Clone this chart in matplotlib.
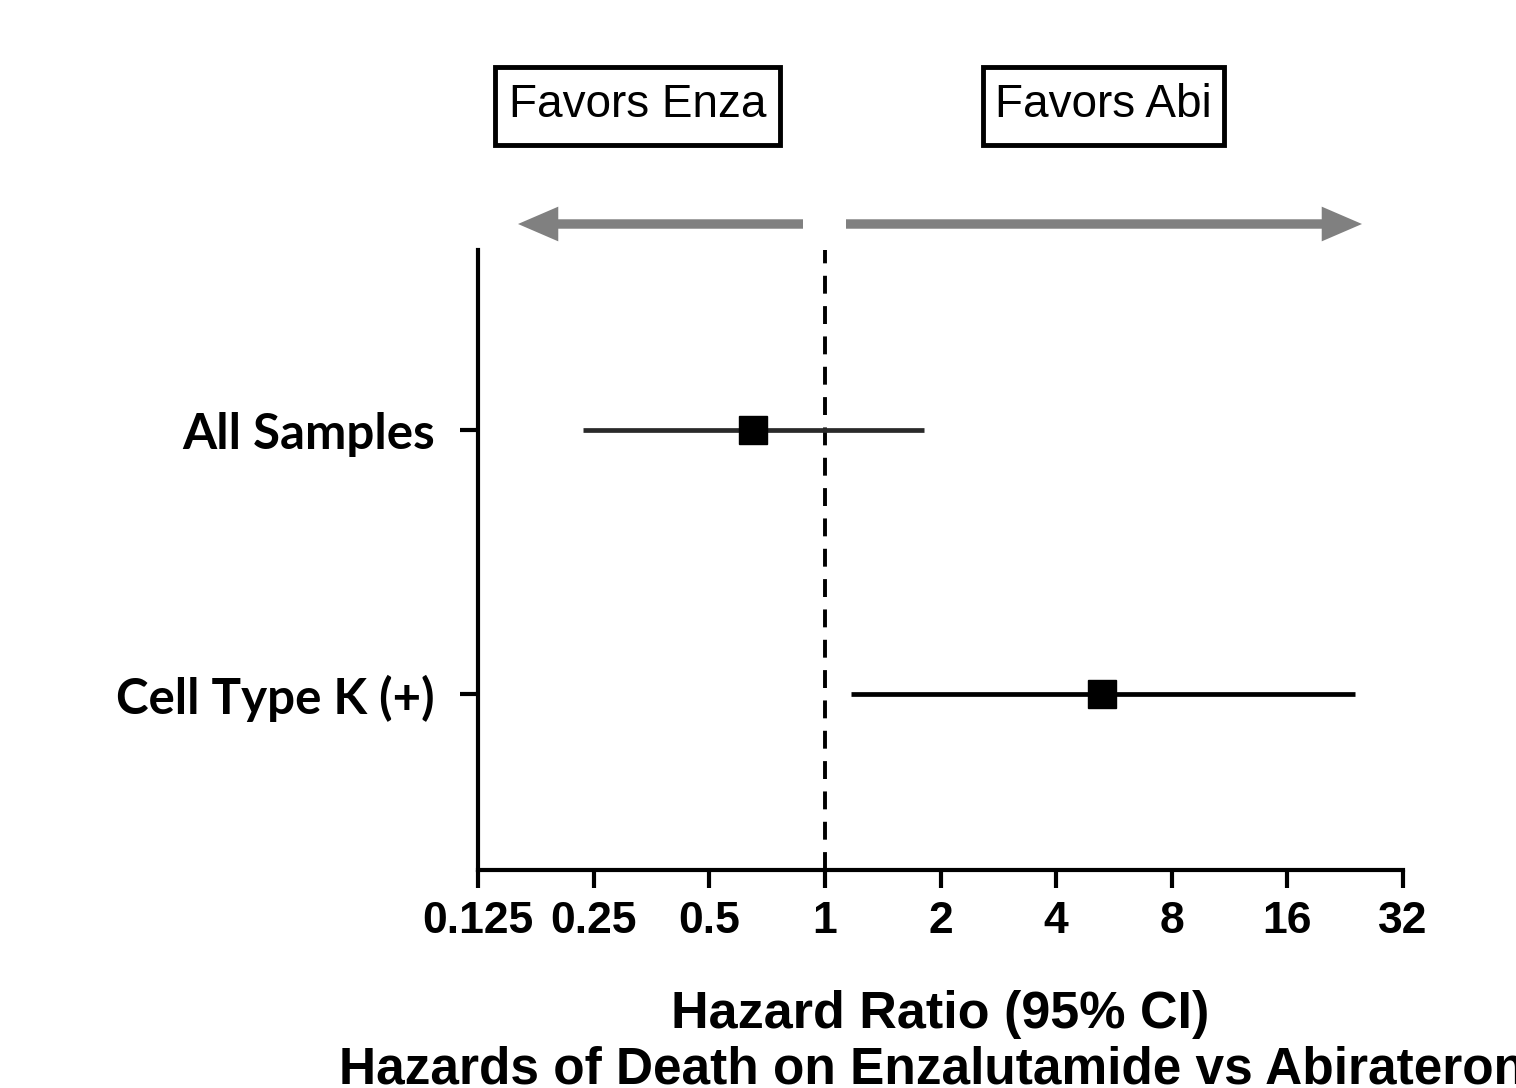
import matplotlib
matplotlib.use("Agg")
import matplotlib.pyplot as plt
from matplotlib.patches import Rectangle, FancyArrowPatch

# data
groups = ["All Samples", "Cell Type K (+)"]
hr = [0.65, 5.27]
ci_low = [0.234, 1.17]
ci_high = [1.81, 24.0]
line_colors = ["#2a2a2a", "black"]
xticks = [0.125, 0.25, 0.5, 1, 2, 4, 8, 16, 32]
xtick_labels = ["0.125", "0.25", "0.5", "1", "2", "4", "8", "16", "32"]
ypos = [2, 1]

W, H = 1516, 1088
fig = plt.figure(figsize=(W / 100, H / 100), dpi=100)
ax = fig.add_axes([478 / W, 1 - 870 / H, (1403 - 478) / W, (870 - 250) / H])

for i in range(len(groups)):
    ax.plot([ci_low[i], ci_high[i]], [ypos[i], ypos[i]], color=line_colors[i],
            lw=3.4, solid_capstyle="butt", zorder=2)
    ax.plot(hr[i], ypos[i], marker="s", ms=20.5, color="black", zorder=3)

ax.axvline(1, color="black", lw=2.8, ls=(0, (4.6, 3.2)), zorder=1)

ax.set_xscale("log", base=2)
ax.set_xlim(0.125, 32)
ax.set_ylim(0.333, 2.682)
ax.set_xticks(xticks)
ax.set_xticklabels(xtick_labels, fontfamily="Liberation Sans", fontweight="bold", fontsize=32)
ax.minorticks_off()
ax.set_yticks(ypos)
ax.set_yticklabels(groups, fontfamily="Lato", fontweight="bold", fontsize=35.5)

for s in ["top", "right"]:
    ax.spines[s].set_visible(False)
for s in ["left", "bottom"]:
    ax.spines[s].set_linewidth(3)
ax.tick_params(axis="x", direction="out", length=13, width=3, pad=9)
ax.tick_params(axis="y", direction="out", length=13, width=3, pad=18)

# axis title lines (second line runs past the right edge, as in the original)
fig.text(940 / W, 1 - 1028 / H, "Hazard Ratio (95% CI)", ha="center", va="baseline",
         fontfamily="Liberation Sans", fontweight="bold", fontsize=37.5)
fig.text(946 / W, 1 - 1084 / H, "Hazards of Death on Enzalutamide vs Abiraterone",
         ha="center", va="baseline", fontfamily="Liberation Sans", fontweight="bold", fontsize=37)

# favour boxes
boxes = [(495, 780, "Favors Enza"), (983, 1224, "Favors Abi")]
for x0, x1, txt in boxes:
    fig.add_artist(Rectangle((x0 / W, 1 - 145 / H), (x1 - x0) / W, 78 / H,
                             transform=fig.transFigure, fill=False, lw=3.5, ec="black"))
    fig.text((x0 + x1) / 2 / W, 1 - 105 / H, txt, ha="center", va="center",
             fontfamily="Liberation Sans", fontsize=33)

# gray direction arrows
for start, end in [(803, 518), (846, 1362)]:
    arr = FancyArrowPatch((start / W, 1 - 224 / H), (end / W, 1 - 224 / H),
                          transform=fig.transFigure,
                          arrowstyle="simple,head_length=29,head_width=25,tail_width=6.8",
                          mutation_scale=1, shrinkA=0, shrinkB=0, color="#808080", lw=0)
    fig.add_artist(arr)

fig.savefig("out.png", dpi=100)
